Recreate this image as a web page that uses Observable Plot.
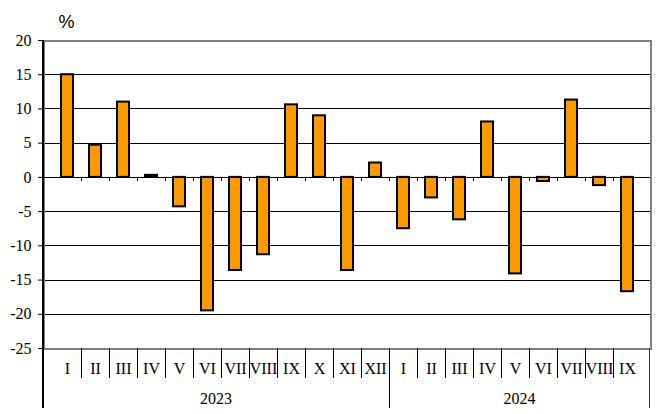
<!DOCTYPE html>
<html>
<head>
<meta charset="utf-8">
<script src="https://cdn.jsdelivr.net/npm/d3@7"></script>
<script src="https://cdn.jsdelivr.net/npm/@observablehq/plot@0.6"></script>
<style>
  html, body { margin: 0; padding: 0; background: #fff; }
  #chart svg { display: block; }
  #chart svg text { font-family: 'Liberation Serif', 'Times New Roman', serif; }
  #chart svg text.unit, #chart svg .unit text { font-family: 'Liberation Sans', Arial, sans-serif; }
</style>
</head>
<body>
<div id="chart"></div>
<script>
const months = ["I","II","III","IV","V","VI","VII","VIII","IX","X","XI","XII",
                "I","II","III","IV","V","VI","VII","VIII","IX"];
const years = ["2023","2023","2023","2023","2023","2023","2023","2023","2023","2023","2023","2023",
               "2024","2024","2024","2024","2024","2024","2024","2024","2024"];
const values = [15.0, 4.7, 11.0, 0.3, -4.3, -19.5, -13.6, -11.3, 10.6, 9.0, -13.6, 2.1,
                -7.5, -3.0, -6.2, 8.1, -14.1, -0.6, 11.3, -1.2, -16.7];
const yTicks = [-25, -20, -15, -10, -5, 0, 5, 10, 15, 20];
const unitLabel = "%";

const data = values.map((v, i) => ({key: i, month: months[i], year: years[i], value: v}));
const yearGroups = d3.groups(data, d => d.year).map(([year, rows]) => ({
  year, first: rows[0].key, last: rows[rows.length - 1].key
}));

const serif = "'Liberation Serif', 'Times New Roman', serif";

function decor(index, scales, values_, dims) {
  const x = scales.x, y = scales.y;
  const bw = x.bandwidth ? x.bandwidth() : 0;
  const c = i => x(i) + bw / 2;
  const left = dims.marginLeft, right = dims.width - dims.marginRight;
  const bottom = dims.height - dims.marginBottom, top = dims.marginTop;
  const y0 = y(0);
  const n = months.length;
  const bound = k => k === 0 ? left : k === n ? right : (c(k - 1) + c(k)) / 2;
  const g = d3.create("svg:g").attr("shape-rendering", "crispEdges");
  for (let k = 1; k < n; k++) {
    g.append("line").attr("x1", bound(k)).attr("x2", bound(k))
      .attr("y1", y0).attr("y2", y0 + 4).attr("stroke", "black").attr("stroke-width", 1);
  }
  const yearBounds = new Set(yearGroups.slice(1).map(gr => gr.first));
  for (let k = 1; k < n; k++) {
    const long = yearBounds.has(k);
    g.append("line").attr("x1", bound(k)).attr("x2", bound(k))
      .attr("y1", bottom).attr("y2", bottom + (long ? 60 : 30))
      .attr("stroke", "black").attr("stroke-width", 1);
  }
  g.append("line").attr("x1", left).attr("x2", left).attr("y1", top).attr("y2", bottom + 60)
    .attr("stroke", "black").attr("stroke-width", 1.5);
  g.append("line").attr("x1", right - 1).attr("x2", right - 1).attr("y1", bottom).attr("y2", bottom + 60)
    .attr("stroke", "#333").attr("stroke-width", 1);
  for (const gr of yearGroups) {
    const cx = (bound(gr.first) + bound(gr.last + 1)) / 2;
    g.append("text").attr("x", cx).attr("y", bottom + 56)
      .attr("text-anchor", "middle").attr("font-family", serif).attr("font-size", 16)
      .attr("fill", "black").text(gr.year);
  }
  return g.node();
}

const chart = Plot.plot({
  width: 657,
  height: 414,
  marginLeft: 43,
  marginRight: 7,
  marginTop: 40,
  marginBottom: 66,
  style: {fontFamily: serif, fontSize: "15px", color: "black", background: "white"},
  x: {type: "band", domain: d3.range(months.length), paddingInner: 0.58, paddingOuter: 0.29, axis: null},
  y: {domain: [-25, 20], axis: null},
  marks: [
    Plot.ruleY(yTicks.filter(t => t > -25 && t < 20), {stroke: "black", strokeWidth: 1, shapeRendering: "crispEdges"}),
    Plot.frame({stroke: "#808080", strokeWidth: 2, shapeRendering: "crispEdges"}),
    Plot.barY(data, {x: "key", y: "value", fill: "#FF9900", stroke: "black", strokeWidth: 2}),
    Plot.ruleY([0], {stroke: "black", strokeWidth: 1.2, shapeRendering: "crispEdges"}),
    Plot.axisY({ticks: yTicks, tickSize: 5, tickPadding: 7, fontSize: 16, fontFamily: serif,
      fontVariant: "normal", label: null, stroke: "black", tickFormat: d => String(d)}),
    Plot.axisX({tickSize: 0, tickPadding: 14, fontSize: 16, fontFamily: serif, label: null,
      tickFormat: i => months[i]}),
    Plot.text([unitLabel], {frameAnchor: "top-left", dx: 15, dy: -25, fontSize: 18,
      fontFamily: "'Liberation Sans', Arial, sans-serif", fill: "black", className: "unit"}),
    decor
  ]
});
document.getElementById("chart").append(chart);
</script>
</body>
</html>
